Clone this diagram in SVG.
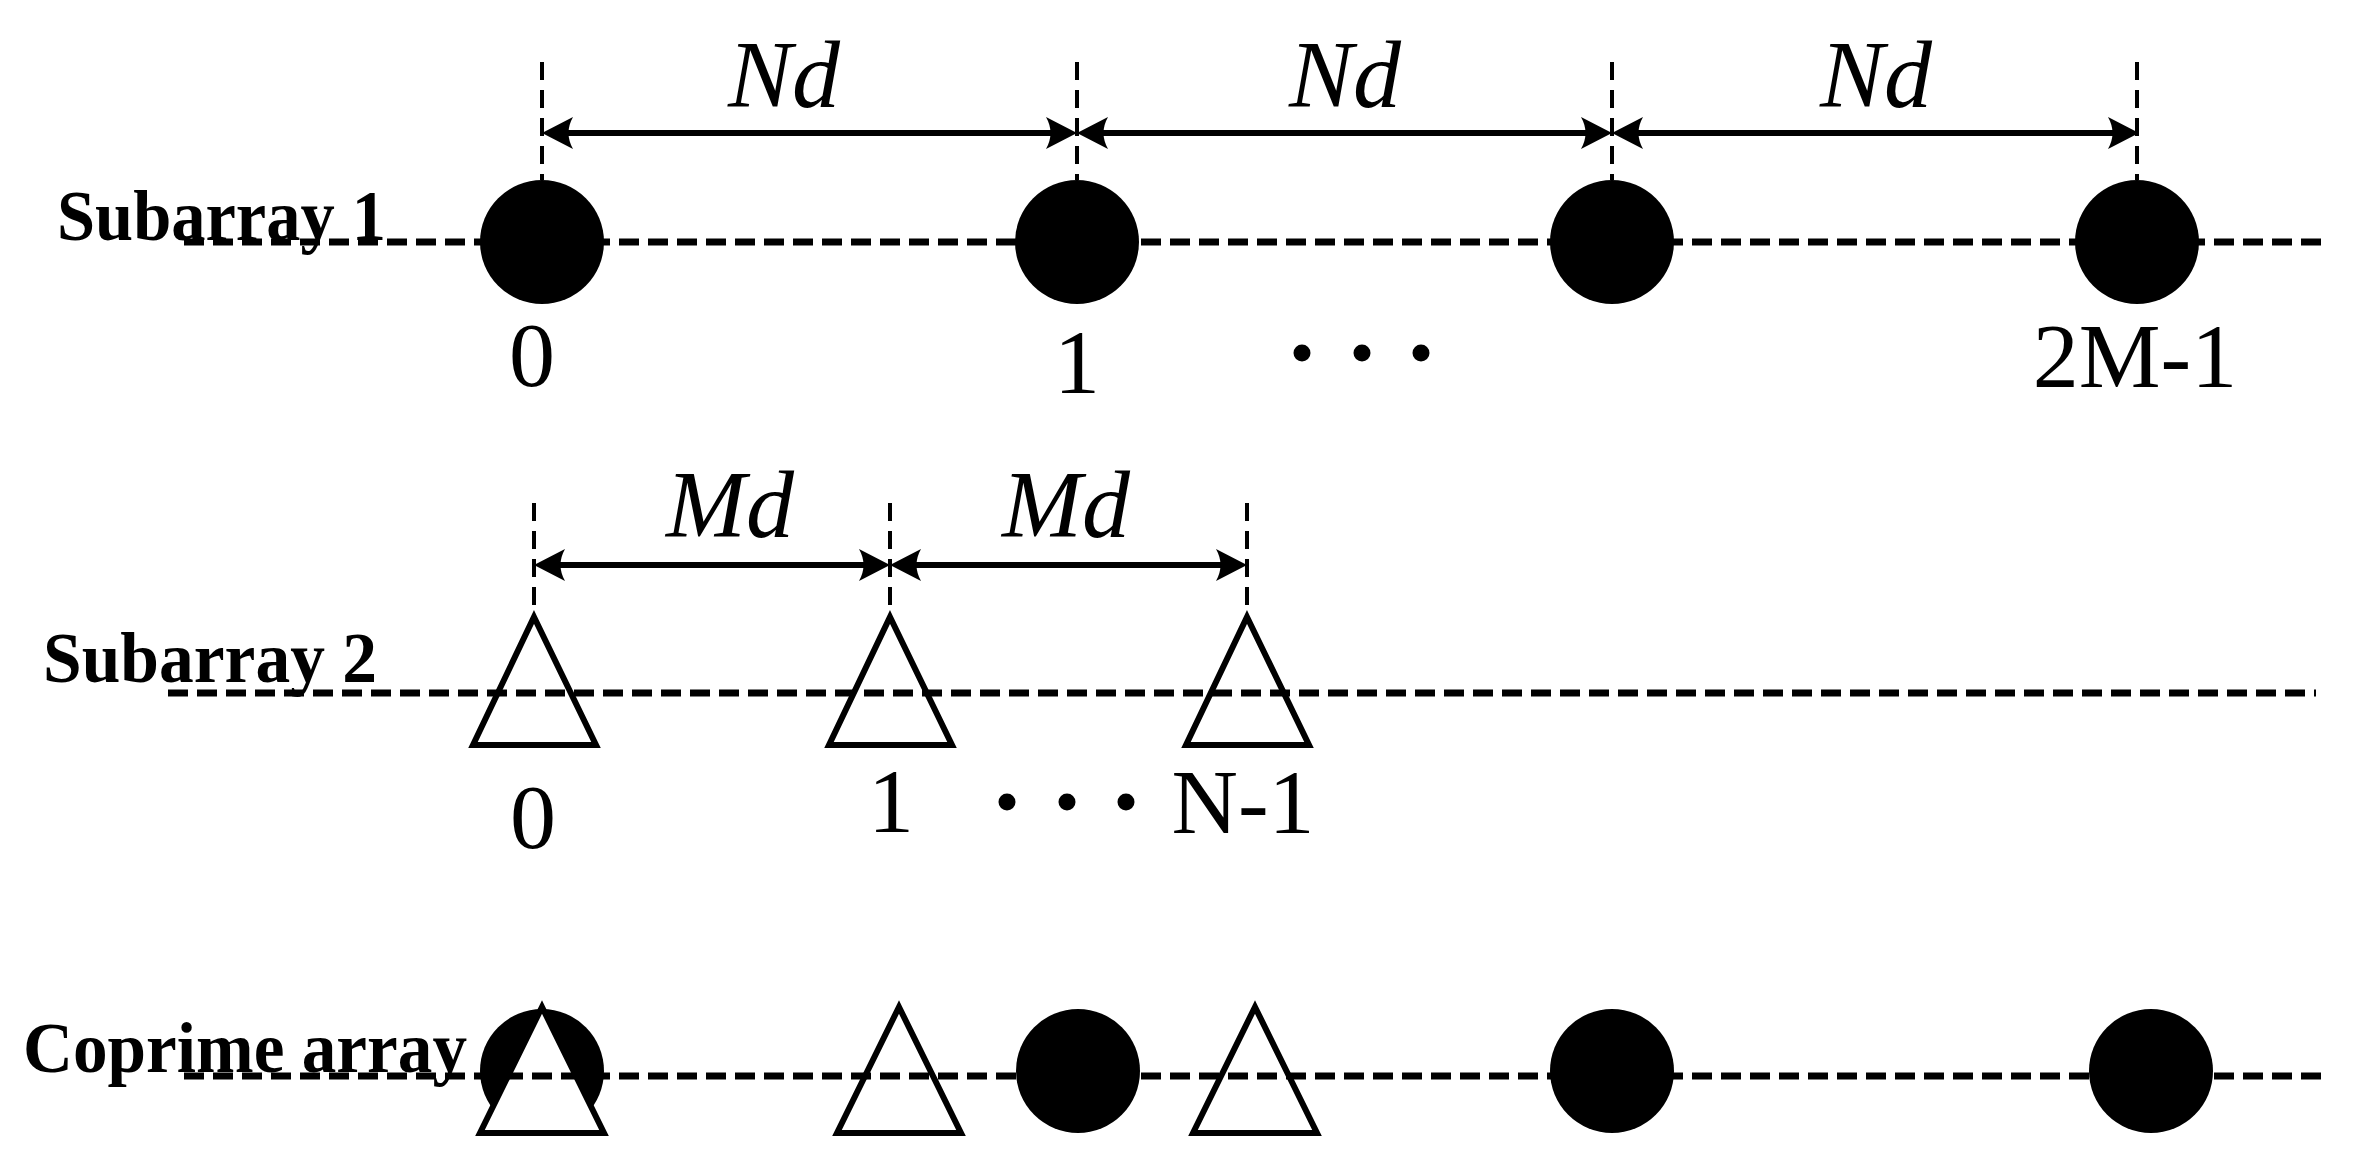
<svg xmlns="http://www.w3.org/2000/svg" width="2368" height="1168" viewBox="0 0 2368 1168">
<style>
.bg{fill:#fff}
.el{fill:#000}
.tri{fill:#fff;stroke:#000;stroke-width:6;stroke-linejoin:miter}
.hd{fill:none;stroke:#000;stroke-width:7;stroke-dasharray:20 9}
.vd{fill:none;stroke:#000;stroke-width:4;stroke-dasharray:18 10}
.ar{fill:none;stroke:#000;stroke-width:6;marker-start:url(#ah);marker-end:url(#ah)}
.row{font-family:"Liberation Serif","Times New Roman",serif;font-weight:bold;font-size:72px;fill:#000}
.dim{font-family:"Liberation Serif","Times New Roman",serif;font-style:italic;font-size:96px;fill:#000;text-anchor:middle}
.idx{font-family:"Liberation Serif","Times New Roman",serif;font-size:92px;fill:#000;text-anchor:middle}
</style>
<defs>
<marker id="ah" markerUnits="userSpaceOnUse" orient="auto-start-reverse" refX="0" refY="0" markerWidth="60" markerHeight="40" viewBox="-30 -20 60 40" overflow="visible">
<path d="M22,0 L-9,-16 Q0,0 -9,16 Z" fill="#000"/>
</marker>
</defs>
<rect class="bg" x="0" y="0" width="2368" height="1168"/>

<!-- row labels -->
<g id="label-subarray1"><text class="row" x="57" y="240" textLength="329" lengthAdjust="spacingAndGlyphs">Subarray 1</text></g>
<g id="label-subarray2"><text class="row" x="43" y="682" textLength="334" lengthAdjust="spacingAndGlyphs">Subarray 2</text></g>
<g id="label-coprime"><text class="row" x="23" y="1072" font-size="75" textLength="444" lengthAdjust="spacingAndGlyphs">Coprime array</text></g>

<!-- Subarray 1 elements -->
<g id="s1-e0"><circle class="el" cx="542" cy="242" r="62"/><text class="idx" x="532" y="386">0</text></g>
<g id="s1-e1"><circle class="el" cx="1077" cy="242" r="62"/><text class="idx" x="1077" y="393">1</text></g>
<g id="s1-e2"><circle class="el" cx="1612" cy="242" r="62"/></g>
<g id="s1-e3"><circle class="el" cx="2137" cy="242" r="62"/><text class="idx" x="2135" y="387">2M-1</text></g>
<g id="s1-dots"><circle class="el" cx="1302" cy="353" r="8.5"/><circle class="el" cx="1362" cy="353" r="8.5"/><circle class="el" cx="1421" cy="353" r="8.5"/></g>

<!-- Subarray 2 elements -->
<g id="s2-e0"><polygon class="tri" points="534,617 596,745 473,745"/><text class="idx" x="533" y="848">0</text></g>
<g id="s2-e1"><polygon class="tri" points="890,617 952,745 829,745"/><text class="idx" x="891" y="832">1</text></g>
<g id="s2-e2"><polygon class="tri" points="1247,617 1309,745 1186,745"/><text class="idx" x="1243" y="833">N-1</text></g>
<g id="s2-dots"><circle class="el" cx="1007" cy="802" r="8.5"/><circle class="el" cx="1067" cy="802" r="8.5"/><circle class="el" cx="1126" cy="802" r="8.5"/></g>

<!-- Coprime array elements -->
<g id="c-e0"><circle class="el" cx="542" cy="1071" r="62"/><polygon class="tri" points="542,1007 604,1133 480,1133"/></g>
<g id="c-e1"><polygon class="tri" points="899,1007 961,1133 837,1133"/></g>
<g id="c-e2"><circle class="el" cx="1078" cy="1071" r="62"/></g>
<g id="c-e3"><polygon class="tri" points="1255,1007 1317,1133 1193,1133"/></g>
<g id="c-e4"><circle class="el" cx="1612" cy="1071" r="62"/></g>
<g id="c-e5"><circle class="el" cx="2151" cy="1071" r="62"/></g>

<!-- dimension labels -->
<g id="dim-labels">
<text class="dim" x="784" y="107">Nd</text>
<text class="dim" x="1345" y="107">Nd</text>
<text class="dim" x="1876" y="107">Nd</text>
<text class="dim" x="730" y="537">Md</text>
<text class="dim" x="1066" y="537">Md</text>
</g>

<!-- connectors -->
<g id="connectors">
<line class="hd" x1="184" y1="242" x2="2329" y2="242"/>
<line class="hd" x1="168" y1="693" x2="2316" y2="693"/>
<line class="hd" x1="184" y1="1076" x2="2329" y2="1076"/>
<line class="vd" x1="542" y1="62" x2="542" y2="180"/>
<line class="vd" x1="1077" y1="62" x2="1077" y2="180"/>
<line class="vd" x1="1612" y1="62" x2="1612" y2="180"/>
<line class="vd" x1="2137" y1="62" x2="2137" y2="180"/>
<line class="vd" x1="534" y1="503" x2="534" y2="617"/>
<line class="vd" x1="890" y1="503" x2="890" y2="617"/>
<line class="vd" x1="1247" y1="503" x2="1247" y2="617"/>
<line class="ar" x1="564" y1="133" x2="1055" y2="133"/>
<line class="ar" x1="1099" y1="133" x2="1590" y2="133"/>
<line class="ar" x1="1634" y1="133" x2="2117" y2="133"/>
<line class="ar" x1="556" y1="565" x2="868" y2="565"/>
<line class="ar" x1="912" y1="565" x2="1225" y2="565"/>
</g>
</svg>
